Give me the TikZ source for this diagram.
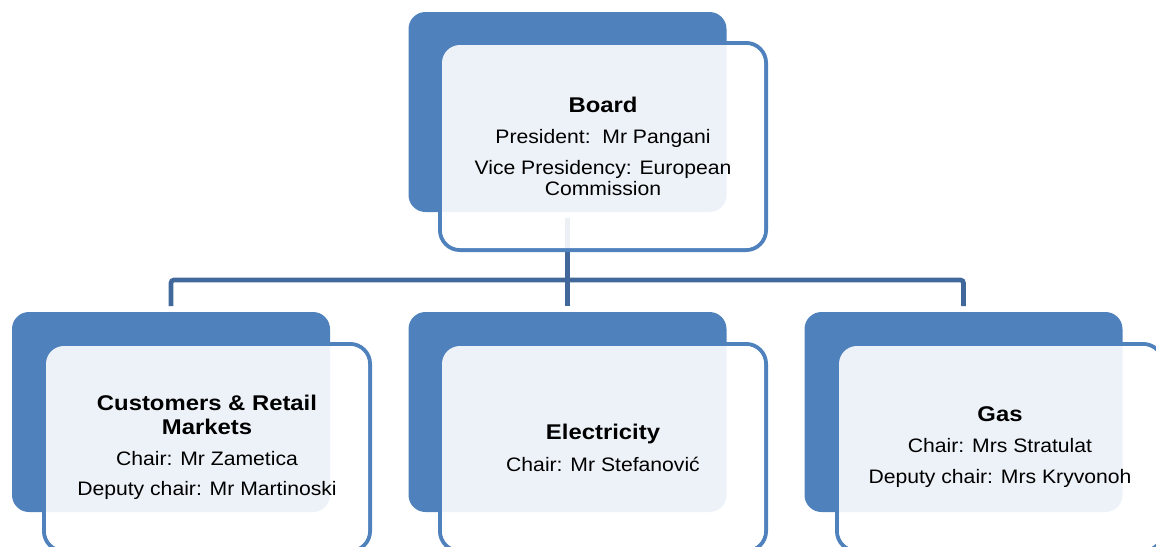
\documentclass[tikz,border=0pt]{standalone}
\usepackage{fontspec}
\setmainfont[FakeStretch=1.085,BoldFeatures={FakeStretch=1.12}]{Liberation Sans}
\usetikzlibrary{calc}
\pgfdeclarelayer{bg}
\pgfsetlayers{bg,main}
\definecolor{accent}{HTML}{4F81BD}
\definecolor{connblue}{HTML}{41689A}
\newcommand\boxtitle[1]{{\fontsize{21.3}{21}\selectfont\bfseries #1}}
\tikzset{
  backbox/.style={rectangle, rounded corners=17pt, fill=accent, minimum width=318pt, minimum height=200pt, inner sep=0pt, outer sep=0pt},
  frontrim/.style={rectangle, rounded corners=20pt, draw=accent, line width=4pt, minimum width=326pt, minimum height=207pt, inner sep=0pt, outer sep=0pt},
  frontfill/.style={rectangle, rounded corners=18pt, fill=white, fill opacity=0.9, text opacity=1, minimum width=322pt, minimum height=203pt, inner sep=0pt, outer sep=0pt, align=center, font=\fontsize{19.5}{21}\selectfont},
  conn/.style={draw=connblue, line width=4.7pt, rounded corners=3pt}
}
\begin{document}
\begin{tikzpicture}[x=1pt, y=-1pt]
\useasboundingbox (0,0) rectangle (1156,546);
\clip (0,0) rectangle (1156,546);
% Board
\node[frontrim] (brim) at (603,146.5) {};
\node[backbox] (bb) at (567.5,112) {};
\node[frontfill] (bf) at (603,146.5) {\boxtitle{Board}\\[10pt]President:\ \ Mr Pangani\\[10pt]Vice Presidency: European\\Commission};
% Customers
\node[frontrim] (crim) at (207,447.5) {};
\node[backbox] (cb) at (171,412) {};
\node[frontfill] (cf) at (207,447.5) {\boxtitle{Customers \& Retail}\\[3pt]\boxtitle{Markets}\\[10pt]Chair: Mr Zametica\\[9pt]Deputy chair: Mr Martinoski};
% Electricity
\node[frontrim] (erim) at (603,447.5) {};
\node[backbox] (eb) at (567.5,412) {};
\node[frontfill] (ef) at (603,447.5) {\boxtitle{Electricity}\\[11pt]Chair: Mr Stefanović};
% Gas
\node[frontrim] (grim) at (1000,447.5) {};
\node[backbox] (gb) at (963.5,412) {};
\node[frontfill] (gf) at (1000,447.5) {\boxtitle{Gas}\\[10pt]Chair: Mrs Stratulat\\[10pt]Deputy chair: Mrs Kryvonoh};
% connectors
\begin{pgfonlayer}{bg}
\coordinate (bus) at (567.5,280);
\draw[conn] ($(bb.south)+(0,6)$) -- ($(eb.north)+(0,-6)$);
\draw[conn] ($(cb.north)+(0,-6)$) |- (bus) -| ($(gb.north)+(0,-6)$);
\end{pgfonlayer}
\end{tikzpicture}
\end{document}
